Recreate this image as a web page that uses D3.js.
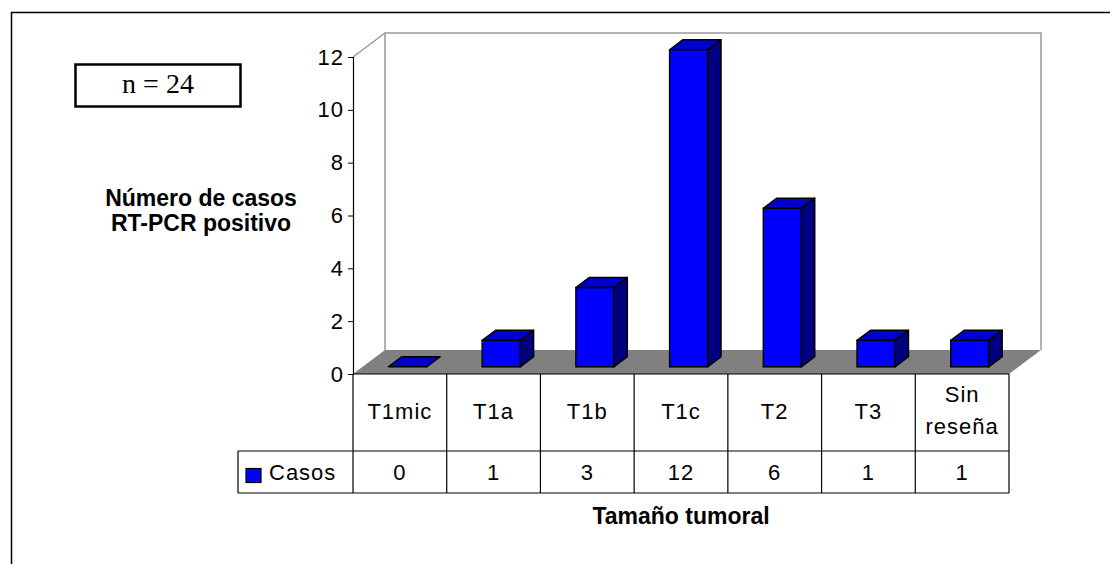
<!DOCTYPE html>
<html>
<head>
<meta charset="utf-8">
<script src="https://cdn.jsdelivr.net/npm/d3@7"></script>
<style>
body { margin: 0; background: #fff; }
svg { display: block; font-family: Arial, "Liberation Sans", sans-serif; }
</style>
</head>
<body>
<script>
var width = 1110,
	height = 564;

// chart data
var categories = ["T1mic", "T1a", "T1b", "T1c", "T2", "T3", "Sin reseña"];
var casos = [0, 1, 3, 12, 6, 1, 1];
var yTicks = [0, 2, 4, 6, 8, 10, 12];
var seriesName = "Casos";

var svg = d3.select("body").append("svg")
	.attr("width", width)
	.attr("height", height);

// outer chart frame
svg.append("rect")
	.attr("x", 11.5).attr("y", 12.5)
	.attr("width", width).attr("height", height)
	.attr("fill", "none")
	.attr("stroke", "#000")
	.attr("stroke-width", 1.5);

// plot area (front face) and 3D depth
var plotLeft = 353, plotRight = 1009, plotTop = 57, plotBottom = 374;
var depthX = 32, depthY = -24;

var x = d3.scaleBand()
	.domain(categories)
	.range([plotLeft, plotRight]);

var y = d3.scaleLinear()
	.domain([0, 12])
	.range([plotBottom, plotTop]);

// back wall
var wallTop = y(12) + depthY;
svg.append("path")
	.attr("d", "M" + (plotLeft + depthX) + "," + (plotBottom + depthY) +
		"L" + (plotLeft + depthX) + "," + wallTop +
		"L" + (plotRight + depthX) + "," + wallTop +
		"L" + (plotRight + depthX) + "," + (plotBottom + depthY))
	.attr("fill", "none")
	.attr("stroke", "#999")
	.attr("stroke-width", 1.5);

svg.append("line")
	.attr("x1", plotLeft).attr("y1", y(12))
	.attr("x2", plotLeft + depthX).attr("y2", wallTop)
	.attr("stroke", "#999")
	.attr("stroke-width", 1.5);

// floor
svg.append("path")
	.attr("d", "M" + plotLeft + "," + plotBottom +
		"L" + (plotLeft + depthX) + "," + (plotBottom + depthY) +
		"L" + (plotRight + depthX) + "," + (plotBottom + depthY) +
		"L" + plotRight + "," + plotBottom + "Z")
	.attr("fill", "#808080");

// y axis
var yAxis = svg.append("g")
	.attr("transform", "translate(" + plotLeft + ",0)")
	.call(d3.axisLeft(y).tickValues(yTicks).tickSize(5).tickPadding(4));
yAxis.select(".domain").attr("stroke", "#000").attr("stroke-width", 1.2);
yAxis.selectAll(".tick line").attr("stroke", "#000");
yAxis.selectAll(".tick text")
	.attr("font-size", "22px")
	.attr("letter-spacing", "1px")
	.attr("font-family", "Arial, 'Liberation Sans', sans-serif")
	.attr("fill", "#000");

// 3D bars
var f0 = 0.3, f1 = 0.72;
var barW = x.bandwidth() * 0.405;
var bars = svg.append("g").selectAll("g")
	.data(categories.map(function(c, i) { return { cat: c, val: casos[i] }; }))
	.enter().append("g");

function barGeom(d) {
	var x0 = x(d.cat) + (x.bandwidth() - barW) / 2 + f0 * depthX - 2;
	var oy = f0 * depthY;
	var y0 = y(0) + oy;
	var y1 = y(d.val) + oy;
	var ddx = (f1 - f0) * depthX, ddy = (f1 - f0) * depthY;
	return { x0: x0, x1: x0 + barW, y0: y0, y1: y1, dx: ddx, dy: ddy };
}

// side face
bars.append("path")
	.attr("d", function(d) {
		var g = barGeom(d);
		return "M" + g.x1 + "," + g.y1 + "L" + (g.x1 + g.dx) + "," + (g.y1 + g.dy) +
			"L" + (g.x1 + g.dx) + "," + (g.y0 + g.dy) + "L" + g.x1 + "," + g.y0 + "Z";
	})
	.attr("fill", "#000080")
	.attr("stroke", "#000")
	.attr("stroke-width", 1.5)
	.attr("stroke-linejoin", "round");

// top face
bars.append("path")
	.attr("d", function(d) {
		var g = barGeom(d);
		return "M" + g.x0 + "," + g.y1 + "L" + (g.x0 + g.dx) + "," + (g.y1 + g.dy) +
			"L" + (g.x1 + g.dx) + "," + (g.y1 + g.dy) + "L" + g.x1 + "," + g.y1 + "Z";
	})
	.attr("fill", "#0000CC")
	.attr("stroke", "#000")
	.attr("stroke-width", 1.5)
	.attr("stroke-linejoin", "round");

// front face
bars.filter(function(d) { return d.val > 0; })
	.append("rect")
	.attr("x", function(d) { return barGeom(d).x0; })
	.attr("y", function(d) { return barGeom(d).y1; })
	.attr("width", barW)
	.attr("height", function(d) { var g = barGeom(d); return g.y0 - g.y1; })
	.attr("fill", "#0000FF")
	.attr("stroke", "#000")
	.attr("stroke-width", 1.5);

// data table
var row1 = 374, row2 = 451, row3 = 493;
var legendLeft = 238;
var table = svg.append("g").attr("stroke", "#000").attr("stroke-width", 1.2);

table.append("line").attr("x1", plotLeft).attr("x2", plotRight).attr("y1", row1).attr("y2", row1);
table.append("line").attr("x1", legendLeft).attr("x2", plotRight).attr("y1", row2).attr("y2", row2);
table.append("line").attr("x1", legendLeft).attr("x2", plotRight).attr("y1", row3).attr("y2", row3);
table.append("line").attr("x1", legendLeft).attr("x2", legendLeft).attr("y1", row2).attr("y2", row3);

table.selectAll(".vline")
	.data(categories.concat(["end"]))
	.enter().append("line")
	.attr("x1", function(d) { return d === "end" ? plotRight : x(d); })
	.attr("x2", function(d) { return d === "end" ? plotRight : x(d); })
	.attr("y1", row1).attr("y2", row3);

// category labels
var catText = svg.append("g").selectAll("text")
	.data(categories)
	.enter().append("text")
	.attr("x", function(d) { return x(d) + x.bandwidth() / 2; })
	.attr("y", 419)
	.attr("text-anchor", "middle")
	.attr("font-size", "22px")
	.attr("letter-spacing", "1px")
	.attr("fill", "#000");

catText.each(function(d) {
	var parts = d.split(" ");
	var t = d3.select(this);
	if (parts.length === 1) {
		t.text(d);
	} else {
		t.attr("y", 402);
		parts.forEach(function(p, i) {
			t.append("tspan")
				.attr("x", x(d) + x.bandwidth() / 2)
				.attr("dy", i === 0 ? 0 : 32)
				.text(p);
		});
	}
});

// value row
svg.append("g").selectAll("text")
	.data(casos)
	.enter().append("text")
	.attr("x", function(d, i) { return x(categories[i]) + x.bandwidth() / 2; })
	.attr("y", 480)
	.attr("text-anchor", "middle")
	.attr("font-size", "22px")
	.attr("letter-spacing", "1px")
	.attr("fill", "#000")
	.text(function(d) { return d; });

// legend key in table
svg.append("rect")
	.attr("x", 246).attr("y", 468.5)
	.attr("width", 15).attr("height", 14)
	.attr("fill", "#0000FF")
	.attr("stroke", "#000")
	.attr("stroke-width", 1.2);

svg.append("text")
	.attr("x", 269).attr("y", 480)
	.attr("font-size", "22px")
	.attr("letter-spacing", "1px")
	.attr("fill", "#000")
	.text(seriesName);

// axis titles
var yTitle = svg.append("text")
	.attr("x", 201).attr("y", 206)
	.attr("text-anchor", "middle")
	.attr("font-size", "23px")
	.attr("font-weight", "bold")
	.attr("fill", "#000");
yTitle.append("tspan").attr("x", 201).attr("dy", 0).text("Número de casos");
yTitle.append("tspan").attr("x", 201).attr("dy", 25).text("RT-PCR positivo");

svg.append("text")
	.attr("x", (plotLeft + plotRight) / 2)
	.attr("y", 524)
	.attr("text-anchor", "middle")
	.attr("font-size", "23px")
	.attr("font-weight", "bold")
	.attr("fill", "#000")
	.text("Tamaño tumoral");

// n = 24 box
svg.append("rect")
	.attr("x", 75.5).attr("y", 64.5)
	.attr("width", 165).attr("height", 42)
	.attr("fill", "#fff")
	.attr("stroke", "#000")
	.attr("stroke-width", 2.5);

svg.append("text")
	.attr("x", 158).attr("y", 93)
	.attr("text-anchor", "middle")
	.attr("font-family", "'Liberation Serif', 'Times New Roman', serif")
	.attr("font-size", "28px")
	.attr("fill", "#000")
	.text("n = 24");
</script>
</body>
</html>
